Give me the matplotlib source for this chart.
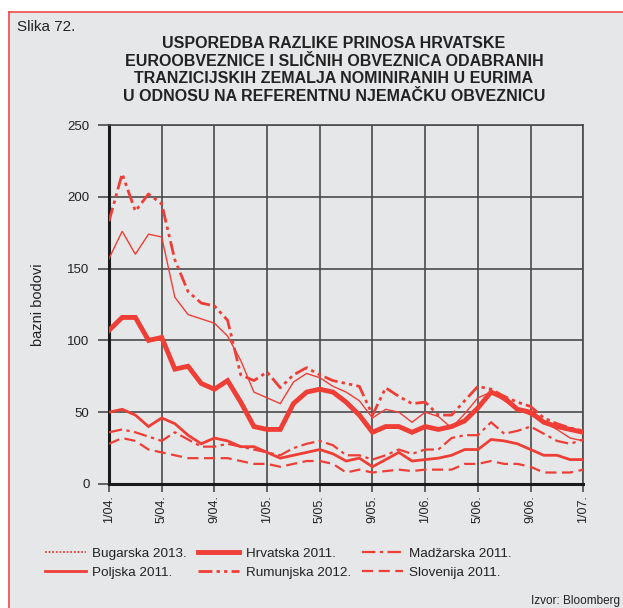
import matplotlib

matplotlib.use('agg')

import matplotlib.pyplot as plt
from matplotlib.patches import Rectangle
from matplotlib.lines import Line2D

plt.rcParams['font.family'] = ['Liberation Sans', 'DejaVu Sans']

# monthly observations, 1/04. .. 1/07.
months = list(range(37))
tick_pos = list(range(0, 37, 4))
tick_labels = ['1/04.', '5/04.', '9/04.', '1/05.', '5/05.', '9/05.',
               '1/06.', '5/06.', '9/06.', '1/07.']

bugarska = [157, 176, 160, 174, 172, 130, 118, 115, 112, 103, 86, 64, 60,
            56, 71, 77, 74, 68, 64, 58, 46, 52, 50, 43, 50, 47, 39, 49, 60,
            64, 58, 52, 48, 43, 38, 32, 30]
hrvatska = [107, 116, 116, 100, 102, 80, 82, 70, 66, 72, 57, 40, 38, 38, 56,
            64, 66, 64, 57, 48, 36, 40, 40, 36, 40, 38, 40, 44, 53, 64, 60,
            52, 50, 43, 40, 38, 36]
madzarska = [36, 38, 36, 33, 30, 36, 31, 26, 26, 28, 26, 24, 22, 20, 25, 28,
             30, 27, 20, 20, 17, 20, 24, 21, 24, 24, 32, 34, 34, 43, 35, 37,
             40, 35, 30, 28, 31]
poljska = [50, 52, 48, 40, 46, 42, 34, 28, 32, 30, 26, 26, 22, 18, 20, 22,
           24, 21, 16, 18, 12, 17, 22, 16, 17, 18, 20, 24, 24, 31, 30, 28,
           24, 20, 20, 17, 17]
rumunjska = [183, 216, 190, 202, 195, 156, 134, 126, 124, 114, 76, 72, 78,
             67, 76, 81, 76, 72, 70, 68, 48, 67, 61, 56, 57, 48, 48, 58, 68,
             66, 61, 57, 54, 46, 42, 39, 37]
slovenija = [28, 32, 30, 24, 22, 20, 18, 18, 18, 18, 16, 14, 14, 12, 14, 16,
             16, 14, 8, 10, 8, 9, 10, 9, 10, 10, 10, 14, 14, 16, 14, 14, 12,
             8, 8, 8, 10]

red = '#EF3E36'
grid = '#4a4a4a'
bg = '#E6E7E9'

fig = plt.figure(figsize=(6.23, 6.08), dpi=100, facecolor='white')
W, H = 623, 608

# panel background with red frame on top and left
fig.patches.append(Rectangle((9 / W, 0), 1, 1 - 12 / H, transform=fig.transFigure,
                             facecolor=bg, edgecolor='none', zorder=-5))
fig.add_artist(Line2D([9 / W, 1], [1 - 12 / H, 1 - 12 / H], color='#F04848',
                      lw=1.2, transform=fig.transFigure, zorder=-4))
fig.add_artist(Line2D([9 / W, 9 / W], [0, 1 - 12 / H], color='#F04848',
                      lw=1.2, transform=fig.transFigure, zorder=-4))

ax = fig.add_axes([109 / W, 1 - 484 / H, (583.3 - 109) / W, (484 - 125) / H])
ax.set_zorder(2)
ax.set_facecolor(bg)

# (values, label, width, style in plot, style in legend)
series = [
    (bugarska, 'Bugarska 2013.', 1.0, '-', (0, (1.0, 1.0))),
    (rumunjska, 'Rumunjska 2012.', 2.0, (0, (5, 1.5, 1.2, 1.5, 1.2, 1.5)),
     (0, (5, 1.5, 1.2, 1.5, 1.2, 1.5))),
    (madzarska, 'Madžarska 2011.', 1.6, (0, (6, 2, 1.5, 2)), (0, (6, 2, 1.5, 2))),
    (poljska, 'Poljska 2011.', 2.0, '-', '-'),
    (slovenija, 'Slovenija 2011.', 1.6, (0, (5, 2.5)), (0, (5, 2.5))),
    (hrvatska, 'Hrvatska 2011.', 3.5, '-', '-'),
]
handles = {}
for vals, name, lw, ls, leg_ls in series:
    ax.plot(months, vals, color=red, lw=lw, linestyle=ls, zorder=3,
            solid_joinstyle='miter')
    leg_lw = 1.3 if name.startswith('Bugarska') else lw
    handles[name] = Line2D([], [], color=red, lw=leg_lw, linestyle=leg_ls)

ax.set_xlim(0, 36)
ax.set_ylim(0, 250)
ax.set_xticks(tick_pos)
ax.set_xticklabels(tick_labels, rotation=90, fontsize=9, color='#222222')
ax.set_yticks(range(0, 251, 50))
ax.tick_params(axis='y', length=8, width=1.2, color=grid, labelsize=9.5,
               pad=6, labelcolor='#222222')
ax.tick_params(axis='x', length=6, width=1.2, color=grid, pad=2)
ax.grid(True, color=grid, lw=1.2, zorder=1)
ax.set_axisbelow(True)
for side in ('top', 'right'):
    ax.spines[side].set_color(grid)
    ax.spines[side].set_linewidth(1.2)
for side in ('left', 'bottom'):
    ax.spines[side].set_color('#1a1a1a')
    ax.spines[side].set_linewidth(2.2)

ax.set_ylabel('bazni bodovi', fontsize=10.5, color='#222222', labelpad=16)

fig.text(17 / W, 1 - 31 / H, 'Slika 72.', fontsize=11, color='#222222',
         va='baseline')
fig.text(334 / W, 1 - 36 / H,
         'USPOREDBA RAZLIKE PRINOSA HRVATSKE\n'
         'EUROOBVEZNICE I SLIČNIH OBVEZNICA ODABRANIH\n'
         'TRANZICIJSKIH ZEMALJA NOMINIRANIH U EURIMA\n'
         'U ODNOSU NA REFERENTNU NJEMAČKU OBVEZNICU',
         ha='center', va='top', fontsize=11.5, fontweight='bold',
         color='#222222', linespacing=1.22)

order = ['Bugarska 2013.', 'Poljska 2011.', 'Hrvatska 2011.',
         'Rumunjska 2012.', 'Madžarska 2011.', 'Slovenija 2011.']
fig.legend([handles[n] for n in order], order, ncol=3, frameon=False,
           loc='upper left', bbox_to_anchor=(33 / W, 1 - 535 / H),
           fontsize=9.7, handlelength=3.0, handletextpad=0.5,
           columnspacing=0.85, labelspacing=0.5, labelcolor='#222222')

fig.text(620 / W, 1 - 604 / H, 'Izvor: Bloomberg', ha='right',
         va='baseline', fontsize=8.5, color='#222222')

fig.savefig('out.png', dpi=100)
